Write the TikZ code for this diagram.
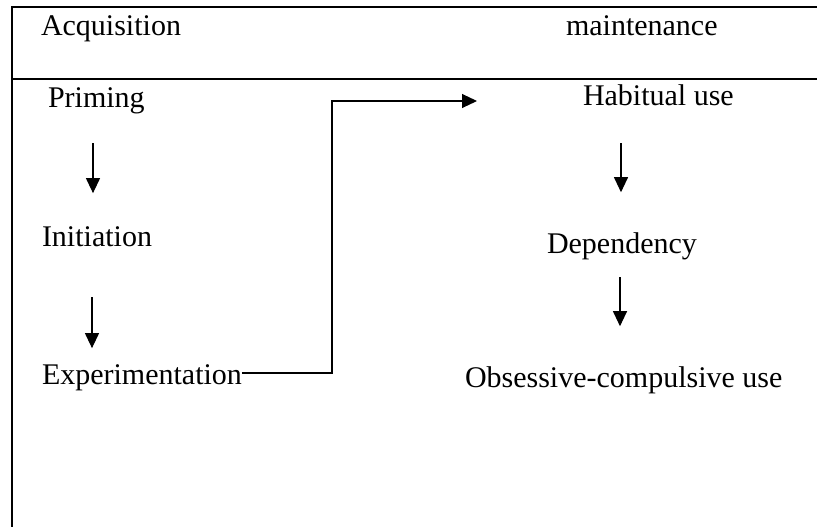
\documentclass[tikz,border=0pt]{standalone}
\usepackage{fontspec}
\setmainfont{Liberation Serif}
\usetikzlibrary{arrows.meta}
\begin{document}
\begin{tikzpicture}[x=1pt,y=-1pt,
  lbl/.style={inner sep=0pt, outer sep=0pt, anchor=base west, font=\fontsize{30}{33}\selectfont},
  frame/.style={line width=2pt},
  arr/.style={line width=1.1pt, -{Triangle[length=15pt,width=14pt]}}]
\useasboundingbox (0,0) rectangle (817,527);
% frame
\draw[frame] (12,527) -- (12,7) -- (817,7);
\draw[frame] (12,79) -- (817,79);
% headers
\node[lbl] (acq) at (41,36) {Acquisition};
\node[lbl] (maint) at (566,36) {maintenance};
% left column
\node[lbl] (priming) at (48,107) {Priming};
\node[lbl] (initiation) at (42,246) {Initiation};
\node[lbl] (experimentation) at (42,384) {Experimentation};
% right column
\node[lbl] (habitual) at (583,106) {Habitual use};
\node[lbl] (dependency) at (547,253) {Dependency};
\node[lbl] (obsessive) at (465,387) {Obsessive-compulsive use};
% arrows
\draw[arr, shorten <=30pt, shorten >=33pt] (priming.south -| 93,0) -- (initiation.north -| 93,0);
\draw[arr, shorten <=51pt, shorten >=16pt] (initiation.south -| 92,0) -- (experimentation.north -| 92,0);
\draw[arr, shorten <=37pt, shorten >=40pt] (habitual.south -| 621,0) -- (dependency.north -| 621,0);
\draw[arr, shorten <=18pt, shorten >=40pt] (dependency.south -| 620,0) -- (obsessive.north -| 620,0);
\draw[arr, shorten >=106pt] ([yshift=11pt]experimentation.base east) -| (332,101) -- ([yshift=5pt]habitual.base west);
\end{tikzpicture}
\end{document}
